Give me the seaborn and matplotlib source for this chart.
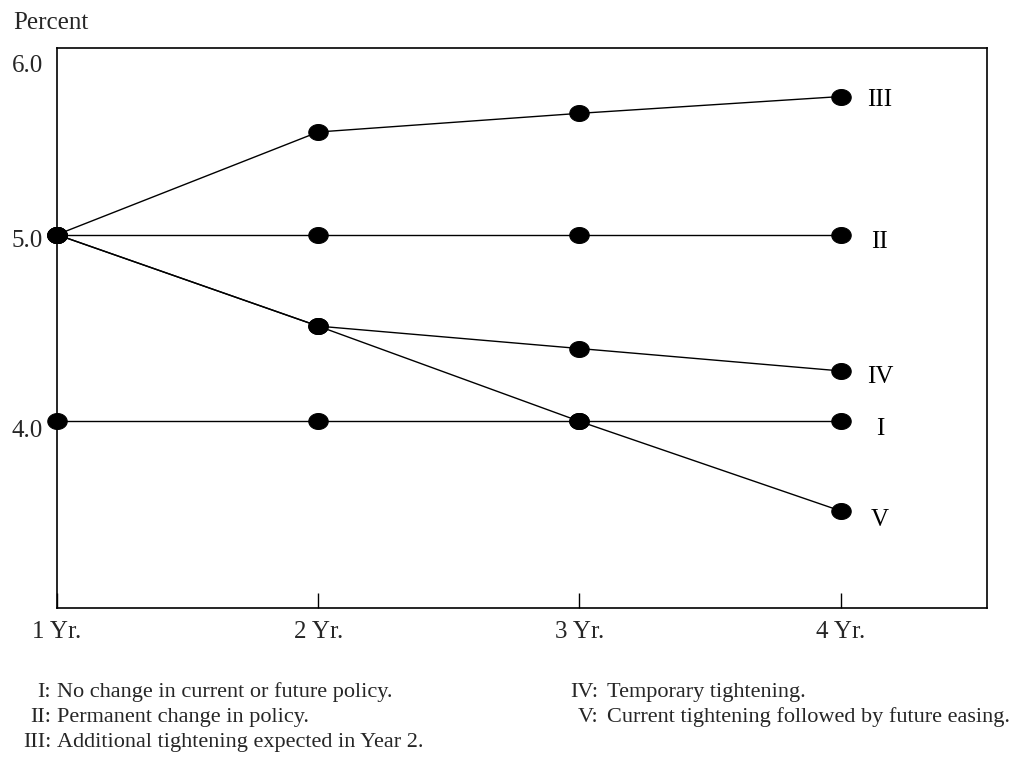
import numpy as np
import pandas as pd
import matplotlib
matplotlib.use("Agg")
import matplotlib.pyplot as plt
from matplotlib.path import Path
from matplotlib.transforms import ScaledTranslation
import seaborn as sns

years = [1, 2, 3, 4]
year_labels = ["1 Yr.", "2 Yr.", "3 Yr.", "4 Yr."]
series_names = ["I", "II", "III", "IV", "V"]
s_I = [4.0, 4.0, 4.0, 4.0]
s_II = [5.0, 5.0, 5.0, 5.0]
s_III = [5.0, 5.55, 5.65, 5.74]
s_IV = [5.0, 4.51, 4.39, 4.27]
s_V = [5.0, 4.51, 4.0, 3.52]
label_y = [3.96, 4.96, 5.72, 4.235, 3.47]
y_ticks = [4.0, 5.0, 6.0]
y_tick_labels = ["4.0", "5.0", "6.0"]
notes_left = [("I:", "No change in current or future policy."),
              ("II:", "Permanent change in policy."),
              ("III:", "Additional tightening expected in Year 2.")]
notes_right = [("IV:", "Temporary tightening."),
               ("V:", "Current tightening followed by future easing.")]

df = pd.DataFrame({
    "year": years * 5,
    "value": s_I + s_II + s_III + s_IV + s_V,
    "series": sum([[n] * 4 for n in series_names], []),
})

sns.set_theme(style="white")
plt.rcParams['font.family'] = ['Liberation Serif', 'DejaVu Serif']

fig = plt.figure(figsize=(10.15, 7.59), dpi=100)
ax = fig.add_axes([57/1015, 1-608/759, (987-57)/1015, (608-48)/759])

t = np.linspace(0, 2*np.pi, 60)
ell = Path(np.column_stack([np.cos(t), 0.82*np.sin(t)]), closed=True)

for name in series_names:
    sub = df[df.series == name]
    sns.lineplot(data=sub, x="year", y="value", ax=ax, color="black",
                 linewidth=1.0, marker=ell, markersize=14,
                 markerfacecolor="black", markeredgecolor="black",
                 legend=False, clip_on=False)

for name, ly in zip(series_names, label_y):
    ax.text(4.15, ly, name, fontsize=18, va="center", ha="center", color="black")

ax.set_xlim(1, 4.56)
ax.set_ylim(3.0, 6.0)
ax.set_xticks(years)
ax.set_xticklabels(year_labels)
ax.set_yticks(y_ticks)
ax.set_yticklabels(y_tick_labels)
ax.tick_params(axis="x", direction="in", length=11, width=1, color="black",
               labelsize=18, pad=9, bottom=True)
ax.tick_params(axis="y", length=0, labelsize=18, pad=10)
ax.set_xlabel("")
ax.set_ylabel("")
for s in ax.spines.values():
    s.set_color("black")
    s.set_linewidth(1.2)

offsets_px = [7, 4, 15]
for lab, off in zip(ax.get_yticklabels(), offsets_px):
    lab.set_transform(lab.get_transform() + ScaledTranslation(0, -off/100, fig.dpi_scale_trans))

fig.text(13/1015, 1-23/759, "Percent", fontsize=18, va="center", ha="left")

ys = [691, 716, 741]
fs = 16
for (lab, txt), y in zip(notes_left, ys):
    fig.text(51/1015, 1-y/759, lab, fontsize=fs, ha="right", va="baseline",
             transform=fig.transFigure + ScaledTranslation(0, -0.06, fig.dpi_scale_trans))
    fig.text(57/1015, 1-y/759, txt, fontsize=fs, ha="left", va="baseline",
             transform=fig.transFigure + ScaledTranslation(0, -0.06, fig.dpi_scale_trans))
for (lab, txt), y in zip(notes_right, ys):
    fig.text(598/1015, 1-y/759, lab, fontsize=fs, ha="right", va="baseline",
             transform=fig.transFigure + ScaledTranslation(0, -0.06, fig.dpi_scale_trans))
    fig.text(607/1015, 1-y/759, txt, fontsize=fs, ha="left", va="baseline",
             transform=fig.transFigure + ScaledTranslation(0, -0.06, fig.dpi_scale_trans))

fig.savefig("out.png", dpi=100, facecolor="white")
